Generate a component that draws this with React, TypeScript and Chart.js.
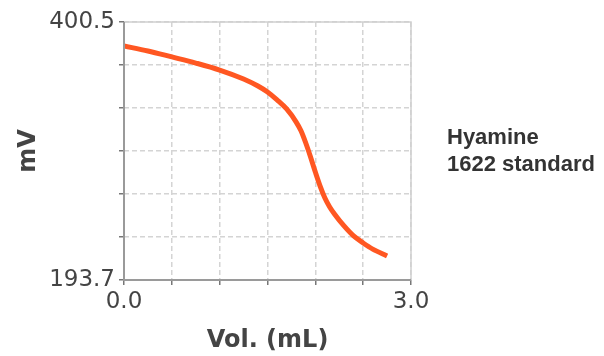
import React, { useEffect, useRef } from "react";
import { Chart, registerables } from "chart.js";

Chart.register(...registerables);

const volumes = [0, 0.25, 0.5, 0.75, 1.0, 1.25, 1.4, 1.5, 1.6, 1.7, 1.8, 1.85, 1.9, 1.95, 2.0, 2.05, 2.1, 2.15, 2.2, 2.3, 2.4, 2.5, 2.6, 2.75];
const millivolts = [381.3, 377.3, 372.5, 367.6, 362.0, 354.8, 349.2, 344.4, 338.1, 330.8, 320.3, 313.3, 303.5, 292.3, 280.3, 269.0, 259.4, 252.2, 246.6, 237.0, 229.0, 223.4, 218.5, 213.0];
const yMin = 193.7;
const yMax = 400.5;
const xMin = 0;
const xMax = 3.0;
const seriesLabel = ["Hyamine", "1622 standard"];
const xTitle = "Vol. (mL)";
const yTitle = "mV";

const frame = {
  id: "frame",
  afterDatasetsDraw(chart: any) {
    const { ctx, chartArea: a } = chart;
    ctx.save();
    ctx.strokeStyle = "#cfcfcf";
    ctx.lineWidth = 1.5;
    ctx.beginPath();
    ctx.moveTo(a.left, a.top);
    ctx.lineTo(a.right, a.top);
    ctx.lineTo(a.right, a.bottom);
    ctx.stroke();
    ctx.strokeStyle = "#9a9a9a";
    ctx.lineWidth = 2;
    ctx.beginPath();
    ctx.moveTo(a.left, a.top);
    ctx.lineTo(a.left, a.bottom);
    ctx.lineTo(a.right, a.bottom);
    ctx.stroke();
    ctx.restore();
  },
};

export default function App() {
  const ref = useRef<HTMLCanvasElement>(null);
  useEffect(() => {
    const yTicks: number[] = [];
    for (let i = 0; i <= 6; i++) yTicks.push(yMin + ((yMax - yMin) * i) / 6);
    const chart = new Chart(ref.current!, {
      type: "line",
      data: {
        datasets: [
          {
            data: volumes.map((v, i) => ({ x: v, y: millivolts[i] })),
            borderColor: "#FF5722",
            borderWidth: 5,
            pointRadius: 0,
            cubicInterpolationMode: "monotone",
            fill: false,
          },
        ],
      },
      options: {
        animation: false,
        responsive: false,
        devicePixelRatio: 1,
        layout: { padding: { left: 0, top: 22, right: 193, bottom: 0 } },
        plugins: { legend: { display: false }, tooltip: { enabled: false } },
        scales: {
          x: {
            type: "linear",
            min: xMin,
            max: xMax,
            afterFit: (s: any) => {
              s.height = 76;
            },
            afterBuildTicks: (s: any) => {
              const t = [];
              for (let i = 0; i <= 6; i++) t.push({ value: xMin + ((xMax - xMin) * i) / 6 });
              s.ticks = t;
            },
            ticks: {
              autoSkip: false,
              maxRotation: 0,
              padding: 3,
              color: "#444",
              font: { family: "DejaVu Sans", size: 23 },
              callback: (v: any, i: number, arr: any[]) =>
                i === 0 || i === arr.length - 1 ? Number(v).toFixed(1) : "",
            },
            grid: { color: "#d4d4d4", lineWidth: 1.5, tickLength: 5, tickColor: "#777", tickWidth: 1.5 },
            border: { display: false, dash: [5, 3] },
            title: {
              display: true,
              text: xTitle,
              color: "#444",
              font: { family: "DejaVu Sans", size: 24, weight: "bold" },
              padding: { top: 0, bottom: 1 },
            },
          },
          y: {
            type: "linear",
            min: yMin,
            max: yMax,
            afterFit: (s: any) => {
              s.width = 124;
            },
            afterBuildTicks: (s: any) => {
              s.ticks = yTicks.map((v) => ({ value: v }));
            },
            ticks: {
              autoSkip: false,
              padding: 4,
              color: "#444",
              font: { family: "DejaVu Sans", size: 23 },
              callback: (v: any, i: number, arr: any[]) =>
                i === 0 || i === arr.length - 1 ? Number(v).toFixed(1) : "",
            },
            grid: { color: "#d4d4d4", lineWidth: 1.5, tickLength: 5, tickColor: "#777", tickWidth: 1.5 },
            border: { display: false, dash: [5, 3] },
            title: {
              display: true,
              text: yTitle,
              color: "#444",
              font: { family: "DejaVu Sans", size: 24, weight: "bold" },
              padding: { top: 14, bottom: 0 },
            },
          },
        },
      },
      plugins: [frame],
    } as any);
    return () => chart.destroy();
  }, []);
  return (
    <div style={{ position: "absolute", left: 0, top: 0, width: 604, height: 356, background: "#fff" }}>
      <canvas ref={ref} width={604} height={356} style={{ display: "block" }} />
      <div
        style={{
          position: "absolute",
          left: 447,
          top: 123,
          fontFamily: "'Liberation Sans', Arial, sans-serif",
          fontWeight: "bold",
          fontSize: 22,
          lineHeight: "27px",
          color: "#333",
          whiteSpace: "nowrap",
        }}
      >
        {seriesLabel.map((s) => (
          <div key={s}>{s}</div>
        ))}
      </div>
    </div>
  );
}
